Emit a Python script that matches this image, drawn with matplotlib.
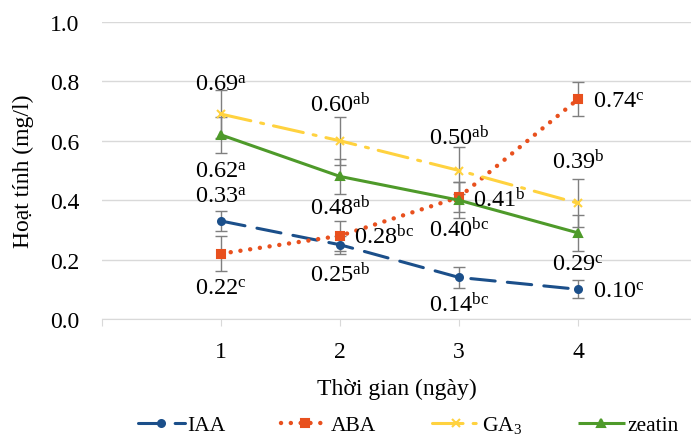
import matplotlib
matplotlib.use("Agg")
import matplotlib.pyplot as plt

plt.rcParams["font.family"] = ["Liberation Serif", "DejaVu Serif"]
plt.rcParams["mathtext.fontset"] = "custom"
plt.rcParams["mathtext.rm"] = "Liberation Serif"
plt.rcParams["mathtext.it"] = "Liberation Serif:italic"

days = [1, 2, 3, 4]
tick_labels = ["1", "2", "3", "4"]

iaa = [0.33, 0.25, 0.14, 0.10]
iaa_err = [0.033, 0.03, 0.035, 0.03]
iaa_sig = ["a", "ab", "bc", "c"]

aba = [0.22, 0.28, 0.41, 0.74]
aba_err = [0.06, 0.05, 0.05, 0.057]
aba_sig = ["c", "bc", "b", "c"]

ga3 = [0.69, 0.60, 0.50, 0.39]
ga3_err = [0.08, 0.08, 0.08, 0.08]
ga3_sig = ["a", "ab", "ab", "b"]

zeatin = [0.62, 0.48, 0.40, 0.29]
zeatin_err = [0.06, 0.06, 0.06, 0.06]
zeatin_sig = ["a", "ab", "bc", "c"]

# label offsets in pixels (dx, dy) relative to each point
iaa_off = [(0, 25), (0, -29), (0, -27), (15, -2)]
aba_off = [(0, -35), (14, 0), (14, -2), (15, -2)]
ga3_off = [(0, 30), (0, 37), (0, 34), (0, 42)]
zeatin_off = [(0, -36), (0, -31), (0, -29), (0, -31)]

fig = plt.figure(figsize=(6.91, 4.39), dpi=100)
ax = fig.add_axes([102 / 691, 1 - 320 / 439, 1 - 102 / 691, (320 - 23) / 439])

series = [
    ("IAA", iaa, iaa_err, iaa_sig, iaa_off, "#1B4F8A", "o", 5, (0, (8, 4)), 2.2),
    ("ABA", aba, aba_err, aba_sig, aba_off, "#E8501E", "s", 6, (0, (0.01, 2.2)), 3.2),
    ("GA$_3$", ga3, ga3_err, ga3_sig, ga3_off, "#FFD23F", "x", 6, (0, (10, 3.3, 1, 3.3)), 2.2),
    ("zeatin", zeatin, zeatin_err, zeatin_sig, zeatin_off, "#4E9A2A", "^", 6, "-", 2.2),
]

for name, vals, errs, sig, offs, color, marker, ms, ls, lw in series:
    ax.errorbar(days, vals, yerr=errs, fmt="none", ecolor="#7F7F7F",
                elinewidth=1, capsize=4, capthick=1, zorder=2)
    ax.plot(days, vals, color=color, linestyle=ls, linewidth=lw,
            marker=marker, markersize=ms, markeredgewidth=1.5,
            dash_capstyle="round", solid_capstyle="butt", label=name, zorder=3)
    for x, v, s, (dx, dy) in zip(days, vals, sig, offs):
        ha = "left" if dx > 0 else "center"
        ax.annotate(f"{v:.2f}$^{{\\mathrm{{{s}}}}}$", (x, v),
                    xytext=(dx * 0.72, dy * 0.72), textcoords="offset points",
                    ha=ha, va="center", fontsize=17.5, color="#000000", zorder=4)

ax.set_xlim(0, 4.95)
ax.set_ylim(0, 1.0)
ax.set_xticks([0] + days)
ax.set_xticklabels([""] + tick_labels)
ax.set_yticks([0, 0.2, 0.4, 0.6, 0.8, 1.0])
ax.set_yticklabels(["0.0", "0.2", "0.4", "0.6", "0.8", "1.0"])
ax.yaxis.grid(True, color="#D9D9D9", linewidth=1)
ax.set_axisbelow(True)
for side in ["top", "right", "left"]:
    ax.spines[side].set_visible(False)
ax.spines["bottom"].set_color("#D9D9D9")
ax.tick_params(axis="x", direction="out", length=5, color="#D9D9D9",
               labelsize=17, pad=11)
ax.tick_params(axis="y", length=0, labelsize=17, pad=16)

ax.set_xlabel("Thời gian (ngày)", fontsize=17, labelpad=11)
ax.set_ylabel("Hoạt tính (mg/l)", fontsize=17, labelpad=12)

fig.legend(loc="center", bbox_to_anchor=(408 / 691, 13 / 439), ncol=4,
           frameon=False, fontsize=15.5, handlelength=2.2, columnspacing=2.6,
           handletextpad=0.1, borderaxespad=0)

fig.savefig("out.png", dpi=100, facecolor="white")
